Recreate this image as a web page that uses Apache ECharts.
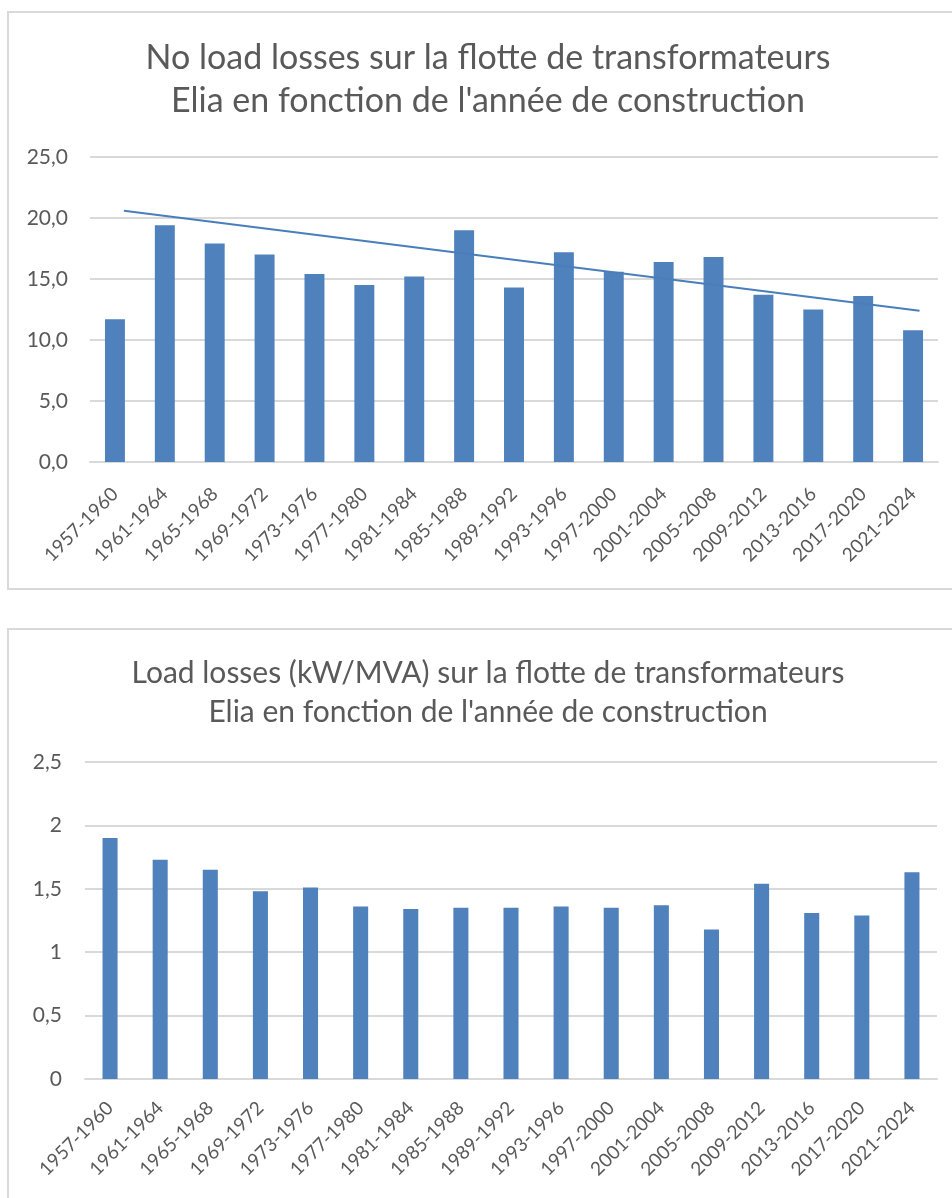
<!DOCTYPE html>
<html>
<head>
<meta charset="utf-8">
<script src="https://cdn.jsdelivr.net/npm/echarts@6/dist/echarts.min.js"></script>
<style>
  html, body { margin: 0; padding: 0; background: #fff; overflow: hidden; width: 952px; height: 1198px; }
  .box { position: absolute; left: 7px; border: 2px solid #d9d9d9; background: #fff; }
  #top { top: 11px; width: 958px; height: 575px; }
  #bottom { top: 628px; width: 958px; height: 600px; }
  .chart { width: 958px; height: 100%; }
</style>
</head>
<body>
<div class="box" id="top"><div class="chart" id="chart1"></div></div>
<div class="box" id="bottom"><div class="chart" id="chart2"></div></div>
<script>
var periods = ["1957-1960", "1961-1964", "1965-1968", "1969-1972", "1973-1976", "1977-1980",
    "1981-1984", "1985-1988", "1989-1992", "1993-1996", "1997-2000", "2001-2004",
    "2005-2008", "2009-2012", "2013-2016", "2017-2020", "2021-2024"];
// no load losses
var noLoad = [11.7, 19.4, 17.9, 17.0, 15.4, 14.5, 15.2, 19.0, 14.3, 17.2, 15.6, 16.4, 16.8, 13.7, 12.5, 13.6, 10.8];
// tendance lineaire (debut / fin)
var trendX = [0.68, 16.63];
var trendY = [20.6, 12.4];
// load losses (kW/MVA)
var loadLoss = [1.90, 1.73, 1.65, 1.48, 1.51, 1.36, 1.34, 1.35, 1.35, 1.36, 1.35, 1.37, 1.18, 1.54, 1.31, 1.29, 1.63];

var txt = '#595959';
var grey = '#d9d9d9';
var blue = '#4f81bd';
var font = 'Lato';

function xAxisCat(margin) {
    return {
        type: 'category',
        data: periods,
        axisTick: { show: false },
        axisLine: { lineStyle: { color: grey, width: 2 } },
        axisLabel: { interval: 0, rotate: 45, margin: margin, color: txt, fontSize: 19, fontFamily: font }
    };
}

var chart1 = echarts.init(document.getElementById('chart1'));
chart1.setOption({
    animation: false,
    title: {
        text: "No load losses sur la flotte de transformateurs\nElia en fonction de l'année de construction",
        left: 'center',
        top: 19,
        textStyle: { color: txt, fontSize: 34, fontWeight: 'normal', fontFamily: font, lineHeight: 43 }
    },
    grid: { left: 81, top: 144, width: 848, height: 305, containLabel: false },
    xAxis: [xAxisCat(29), { type: 'value', min: 0, max: 17, show: false }],
    yAxis: {
        type: 'value', min: 0, max: 25, interval: 5,
        axisLine: { show: false },
        axisTick: { show: false },
        splitLine: { lineStyle: { color: grey, width: 2 } },
        axisLabel: {
            margin: 22, color: txt, fontSize: 21, fontFamily: font,
            formatter: function (v) { return v.toFixed(1).replace('.', ','); }
        }
    },
    series: [{
        type: 'bar',
        data: noLoad,
        barWidth: '40%',
        itemStyle: { color: blue }
    }, {
        type: 'line',
        xAxisIndex: 1,
        data: [[trendX[0], trendY[0]], [trendX[1], trendY[1]]],
        symbol: 'none',
        lineStyle: { color: '#4a7ebb', width: 2 }
    }]
});

var chart2 = echarts.init(document.getElementById('chart2'));
chart2.setOption({
    animation: false,
    title: {
        text: "Load losses (kW/MVA) sur la flotte de transformateurs\nElia en fonction de l'année de construction",
        left: 'center',
        top: 19,
        textStyle: { color: txt, fontSize: 30, fontWeight: 'normal', fontFamily: font, lineHeight: 39 }
    },
    grid: { left: 76, top: 132, width: 852, height: 317, containLabel: false },
    xAxis: xAxisCat(26),
    yAxis: {
        type: 'value', min: 0, max: 2.5, interval: 0.5,
        axisLine: { show: false },
        axisTick: { show: false },
        splitLine: { lineStyle: { color: grey, width: 2 } },
        axisLabel: {
            margin: 23, color: txt, fontSize: 21, fontFamily: font,
            formatter: function (v) { return String(v).replace('.', ','); }
        }
    },
    series: [{
        type: 'bar',
        data: loadLoss,
        barWidth: '30%',
        itemStyle: { color: blue }
    }]
});
</script>
</body>
</html>
